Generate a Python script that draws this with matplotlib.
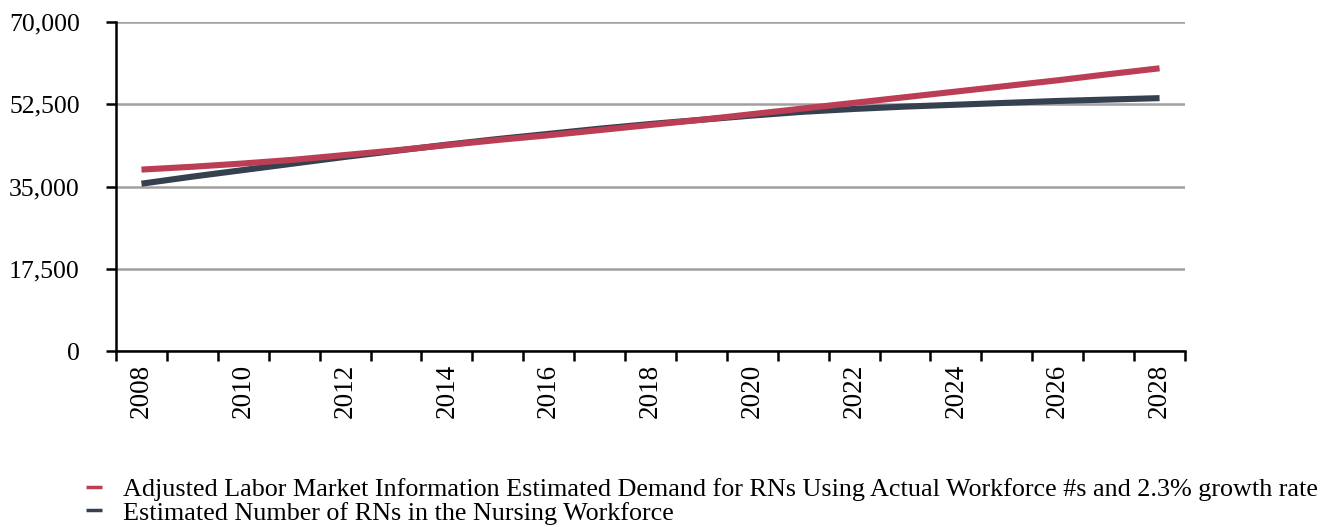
import numpy as np
import matplotlib
matplotlib.use('Agg')
import matplotlib.pyplot as plt

plt.rcParams['font.family'] = ['Liberation Serif', 'DejaVu Serif']

# data
years = list(range(2008, 2029))
demand = [38600, 39200, 39900, 40700, 41700, 42700, 43800, 44900, 45900, 47000,
          48100, 49200, 50400, 51600, 52800, 54000, 55200, 56400, 57600, 58900,
          60150]
workforce = [35600, 37100, 38500, 39900, 41300, 42600, 43900, 45100, 46200, 47300,
             48300, 49200, 50100, 50900, 51500, 52000, 52400, 52800, 53200, 53500,
             53800]
y_ticks = [0, 17500, 35000, 52500, 70000]
labels = ['Adjusted Labor Market Information Estimated Demand for RNs Using '
          'Actual Workforce #s and 2.3% growth rate',
          'Estimated Number of RNs in the Nursing Workforce']

red = '#bb3e55'
navy = '#36414f'
W, H = 1338, 527

fig = plt.figure(figsize=(W / 100, H / 100), dpi=100)
ax = fig.add_axes([116 / W, 1 - 351 / H, (1185 - 116) / W, (351 - 22) / H])

x = np.arange(len(years))
ax.plot(x, demand, color=red, lw=4.4, solid_capstyle='butt', label=labels[0], zorder=3)
ax.plot(x, workforce, color=navy, lw=4.4, solid_capstyle='butt', label=labels[1], zorder=2)

ax.set_xlim(-0.5, len(years) - 0.5)
ax.set_ylim(0, 70000)

# y axis
ax.set_yticks(y_ticks, [f'{v:,}' for v in y_ticks])
ax.yaxis.grid(True, color='#a0a0a0', lw=1.8)
ax.set_axisbelow(True)
ax.tick_params(axis='y', length=7, width=1.8, pad=19, labelsize=18.5)

# x axis: boundary ticks, labels every other year at centres
ax.set_xticks(np.arange(-0.5, len(years), 1.0))
ax.set_xticklabels([])
ax.tick_params(axis='x', which='major', length=7, width=1.8)
ax.set_xticks(x[::2], [str(y) for y in years[::2]], minor=True)
ax.tick_params(axis='x', which='minor', length=0, pad=9, labelsize=19.5,
               labelrotation=90)

for s in ('top', 'right'):
    ax.spines[s].set_visible(False)
for s in ('left', 'bottom'):
    ax.spines[s].set_linewidth(1.8)

leg = fig.legend(loc='upper left', bbox_to_anchor=(86 / W, 1 - 478 / H),
                 frameon=False, fontsize=18.8, handlelength=0.6, handletextpad=0.8,
                 borderpad=0, borderaxespad=0, labelspacing=0)
for h in leg.get_lines():
    h.set_linewidth(2.5)

fig.savefig('out.png', dpi=100)
